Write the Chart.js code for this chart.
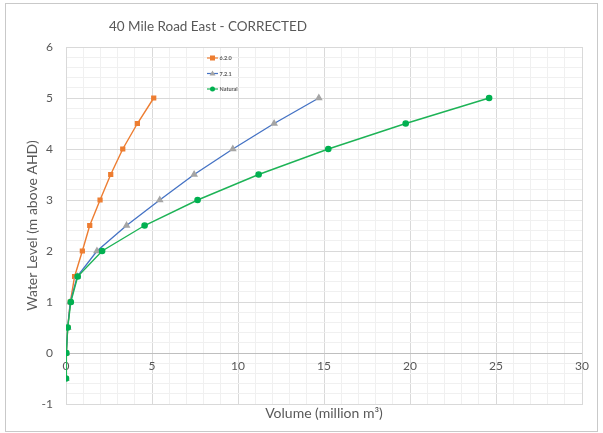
<!DOCTYPE html>
<html>
<head>
<meta charset="utf-8">
<title>40 Mile Road East - CORRECTED</title>
<script src="https://cdn.jsdelivr.net/npm/chart.js@4.4.1/dist/chart.umd.min.js"></script>
<style>
  html, body { margin: 0; padding: 0; background: #ffffff; }
  #wrap { width: 603px; height: 433px; }
</style>
</head>
<body>
<div id="wrap"><canvas id="c" width="603" height="433"></canvas></div>
<script>
// Storage curve: water level (m AHD) against stored volume (million m3)
const levels      = [-0.5, 0, 0.5, 1, 1.5, 2, 2.5, 3, 3.5, 4, 4.5, 5];
const volume620   = [0, 0.02, 0.1, 0.25, 0.5, 0.95, 1.38, 1.98, 2.6, 3.3, 4.15, 5.1];
const volume721   = [0, 0.02, 0.1, 0.25, 0.65, 1.8, 3.52, 5.45, 7.45, 9.7, 12.1, 14.7];
const volumeNat   = [0, 0.02, 0.1, 0.28, 0.68, 2.1, 4.57, 7.65, 11.2, 15.25, 19.75, 24.6];
const seriesNames = ['6.2.0', '7.2.1', 'Natural'];
const xTickValues = [0, 5, 10, 15, 20, 25, 30];
const yTickValues = [-1, 0, 1, 2, 3, 4, 5, 6];

const FONT = 'Lato, "Open Sans", sans-serif';
const GREY_TEXT = '#595959';

function toPoints(vols) {
  return vols.map((v, i) => ({ x: v, y: levels[i] }));
}
function near(v, list) {
  return list.some(t => Math.abs(v - t) < 1e-6);
}

// Outer frame, white background and chart title
const framePlugin = {
  id: 'frame',
  beforeDraw(chart) {
    const ctx = chart.ctx;
    ctx.save();
    ctx.fillStyle = '#ffffff';
    ctx.fillRect(0, 0, chart.width, chart.height);
    ctx.strokeStyle = '#c9c9c9';
    ctx.lineWidth = 1;
    ctx.strokeRect(5.5, 3.5, chart.width - 11, chart.height - 5);
    ctx.restore();
  },
  afterDraw(chart) {
    const ctx = chart.ctx;
    ctx.save();
    ctx.fillStyle = GREY_TEXT;
    ctx.font = '13.5px ' + FONT;
    ctx.textAlign = 'center';
    ctx.textBaseline = 'middle';
    ctx.fillText('40 Mile Road East - CORRECTED', 208, 27);
    ctx.restore();
  }
};

// Small legend placed inside the plot area
const innerLegend = {
  id: 'innerLegend',
  afterDatasetsDraw(chart) {
    const ctx = chart.ctx;
    const x0 = 207, y0 = 58, rowGap = 15.5;
    ctx.save();
    chart.data.datasets.forEach((ds, i) => {
      const y = y0 + i * rowGap;
      ctx.strokeStyle = ds.borderColor;
      ctx.lineWidth = 1.2;
      ctx.beginPath();
      ctx.moveTo(x0, y);
      ctx.lineTo(x0 + 11, y);
      ctx.stroke();
      ctx.fillStyle = ds.pointBackgroundColor;
      const cx = x0 + 5.5;
      if (ds.pointStyle === 'rect') {
        ctx.fillRect(cx - 2.5, y - 2.5, 5, 5);
      } else if (ds.pointStyle === 'triangle') {
        ctx.beginPath();
        ctx.moveTo(cx, y - 3);
        ctx.lineTo(cx + 3, y + 2);
        ctx.lineTo(cx - 3, y + 2);
        ctx.closePath();
        ctx.fill();
      } else {
        ctx.beginPath();
        ctx.arc(cx, y, 2.5, 0, Math.PI * 2);
        ctx.fill();
      }
      ctx.fillStyle = GREY_TEXT;
      ctx.font = 'bold 5.5px ' + FONT;
      ctx.textAlign = 'left';
      ctx.textBaseline = 'middle';
      ctx.fillText(seriesNames[i], x0 + 12.5, y + 0.5);
    });
    ctx.restore();
  }
};

new Chart(document.getElementById('c'), {
  type: 'scatter',
  data: {
    datasets: [
      {
        label: seriesNames[0],
        data: toPoints(volume620),
        showLine: true,
        borderColor: '#ED7D31',
        backgroundColor: '#ED7D31',
        pointBackgroundColor: '#ED7D31',
        pointBorderColor: '#ED7D31',
        pointStyle: 'rect',
        pointRadius: 2.7,
        borderWidth: 1.4,
        order: 3
      },
      {
        label: seriesNames[1],
        data: toPoints(volume721),
        showLine: true,
        borderColor: '#4472C4',
        backgroundColor: '#A5A5A5',
        pointBackgroundColor: '#A5A5A5',
        pointBorderColor: '#A5A5A5',
        pointStyle: 'triangle',
        pointRadius: 3.2,
        borderWidth: 1.3,
        order: 2
      },
      {
        label: seriesNames[2],
        data: toPoints(volumeNat),
        showLine: true,
        borderColor: '#1DB356',
        backgroundColor: '#00B050',
        pointBackgroundColor: '#00B050',
        pointBorderColor: '#00B050',
        pointStyle: 'circle',
        pointRadius: 2.6,
        borderWidth: 1.4,
        order: 1
      }
    ]
  },
  options: {
    responsive: false,
    animation: false,
    devicePixelRatio: 1,
    layout: { padding: { top: 47, right: 21, left: 0, bottom: 0 } },
    plugins: {
      legend: { display: false },
      title: { display: false },
      tooltip: { enabled: false }
    },
    scales: {
      x: {
        type: 'linear',
        position: 'bottom',
        min: 0,
        max: 30,
        afterFit(scale) { scale.height = 29; },
        ticks: { stepSize: 1, display: false, autoSkip: false },
        grid: {
          drawTicks: false,
          color: ctx => (ctx.tick && near(ctx.tick.value, xTickValues)) ? '#d9d9d9' : '#f0f0f0',
          lineWidth: 1
        },
        border: { display: true, color: '#d9d9d9' },
        title: {
          display: true,
          text: 'Volume (million m³)',
          color: GREY_TEXT,
          font: { family: FONT, size: 14 },
          padding: { top: 0, bottom: 11 }
        }
      },
      xLabels: {
        type: 'linear',
        axis: 'x',
        position: { y: 0 },
        min: 0,
        max: 30,
        grid: { display: false, drawTicks: false },
        border: { display: false },
        ticks: {
          stepSize: 5,
          padding: 6,
          color: GREY_TEXT,
          font: { family: FONT, size: 12 },
          callback: v => String(v)
        }
      },
      y: {
        type: 'linear',
        min: -1,
        max: 6,
        afterFit(scale) { scale.width = 66; },
        ticks: {
          stepSize: 0.2,
          autoSkip: false,
          padding: 13,
          color: GREY_TEXT,
          font: { family: FONT, size: 12 },
          callback: v => near(v, yTickValues) ? String(Math.round(v)) : ''
        },
        grid: {
          drawTicks: false,
          color: ctx => {
            if (!ctx.tick) return '#f0f0f0';
            if (Math.abs(ctx.tick.value) < 1e-6) return '#bfbfbf';
            return near(ctx.tick.value, yTickValues) ? '#d9d9d9' : '#f0f0f0';
          },
          lineWidth: 1
        },
        border: { display: true, color: '#d9d9d9' },
        title: {
          display: true,
          text: 'Water Level (m above AHD)',
          color: GREY_TEXT,
          font: { family: FONT, size: 14 },
          padding: { top: 24, bottom: 0 }
        }
      }
    }
  },
  plugins: [framePlugin, innerLegend]
});
</script>
</body>
</html>
